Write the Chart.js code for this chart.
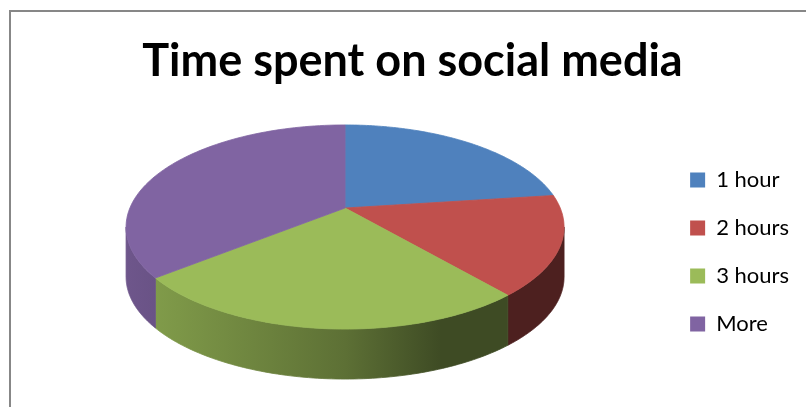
<!DOCTYPE html>
<html>
<head>
<meta charset="utf-8">
<script src="https://cdn.jsdelivr.net/npm/chart.js@4.4.0/dist/chart.umd.min.js"></script>
<style>
html, body { margin: 0; padding: 0; background: #fff; }
#wrap { position: relative; width: 806px; height: 407px; overflow: hidden; }
#frame { position: absolute; left: 9px; top: 10px; width: 900px; height: 500px;
         border-left: 2px solid #878787; border-top: 2px solid #878787; }
#box { position: absolute; left: 0; top: 0; width: 806px; height: 407px; }
</style>
</head>
<body>
<div id="wrap">
  <div id="frame"></div>
  <div id="box"><canvas id="myChart"></canvas></div>
</div>
<script>
var labels = ['1 hour', '2 hours', '3 hours', 'More'];
var hours = [6, 5, 9, 10];
var sliceColors = ['#4F81BD', '#C0504D', '#9BBB59', '#8064A2'];

// look of the 3d disc: squash of the top face, thickness, hub pushed back a bit
var tilt = 0.466;
var depth = 50;
var hubLift = 19;

function shade(hex, f) {
    var n = parseInt(hex.slice(1), 16);
    var r = Math.round(((n >> 16) & 255) * f);
    var g = Math.round(((n >> 8) & 255) * f);
    var b = Math.round((n & 255) * f);
    return 'rgb(' + r + ',' + g + ',' + b + ')';
}

var pie3d = {
    id: 'pie3d',
    beforeDatasetsDraw: function(chart) {
        var ctx = chart.ctx;
        var arcs = chart.getDatasetMeta(0).data;
        if (!arcs.length) return false;
        var cx = arcs[0].x;
        var r = arcs[0].outerRadius;
        var ry = r * tilt;
        var cy = arcs[0].y - depth / 2;
        var steps = 90;

        function px(a) { return cx + r * Math.cos(a); }
        function py(a) { return cy + ry * Math.sin(a); }

        // side walls, only the front half of the rim shows
        arcs.forEach(function(arc, i) {
            var a1 = Math.max(arc.startAngle, 0);
            var a2 = Math.min(arc.endAngle, Math.PI);
            if (a2 <= a1) return;
            var col = sliceColors[i];
            var grad = ctx.createLinearGradient(cx - r, 0, cx + r, 0);
            grad.addColorStop(0, shade(col, 0.86));
            grad.addColorStop(0.12, shade(col, 0.8));
            grad.addColorStop(0.5, shade(col, 0.6));
            grad.addColorStop(0.72, shade(col, 0.4));
            grad.addColorStop(1, shade(col, 0.4));
            ctx.beginPath();
            for (var k = 0; k <= steps; k++) {
                var a = a1 + (a2 - a1) * k / steps;
                if (k == 0) ctx.moveTo(px(a), py(a));
                else ctx.lineTo(px(a), py(a));
            }
            for (var k = steps; k >= 0; k--) {
                var a = a1 + (a2 - a1) * k / steps;
                ctx.lineTo(px(a), py(a) + depth);
            }
            ctx.closePath();
            ctx.fillStyle = grad;
            ctx.strokeStyle = grad;
            ctx.lineWidth = 0.8;
            ctx.fill();
            ctx.stroke();
        });

        // top faces
        arcs.forEach(function(arc, i) {
            ctx.beginPath();
            ctx.moveTo(cx, cy - hubLift);
            for (var k = 0; k <= steps; k++) {
                var a = arc.startAngle + (arc.endAngle - arc.startAngle) * k / steps;
                ctx.lineTo(px(a), py(a));
            }
            ctx.closePath();
            ctx.fillStyle = sliceColors[i];
            ctx.strokeStyle = sliceColors[i];
            ctx.lineWidth = 0.8;
            ctx.fill();
            ctx.stroke();
        });
        return false;
    }
};

new Chart("myChart", {
    type: "pie",
    data: {
        labels: labels,
        datasets: [{
            data: hours,
            backgroundColor: sliceColors,
            borderWidth: 0,
            radius: 219
        }]
    },
    options: {
        responsive: true,
        maintainAspectRatio: false,
        animation: false,
        layout: { padding: { left: 26, right: 7, top: 0, bottom: 0 } },
        plugins: {
            title: {
                display: true,
                text: 'Time spent on social media',
                color: '#000',
                font: { family: 'Lato', size: 45, weight: 'bold' },
                padding: { top: 34, bottom: 9 }
            },
            legend: {
                position: 'right',
                fullSize: false,
                labels: {
                    boxWidth: 15,
                    boxHeight: 15,
                    padding: 26,
                    color: '#000',
                    font: { family: 'Lato', size: 22 }
                }
            },
            tooltip: { enabled: false }
        }
    },
    plugins: [pie3d]
});
</script>
</body>
</html>
